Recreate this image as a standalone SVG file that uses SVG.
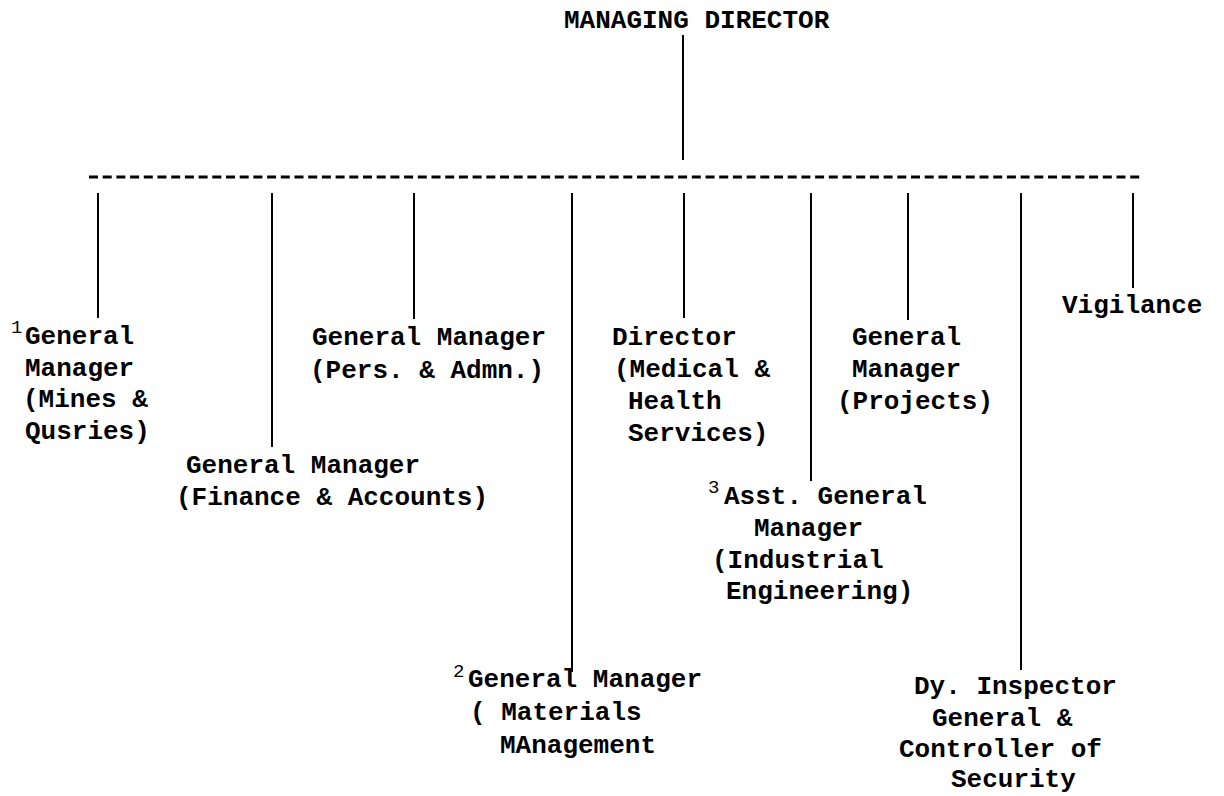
<svg xmlns="http://www.w3.org/2000/svg" width="1224" height="796" viewBox="0 0 1224 796">
<style>
text{font-family:"Liberation Mono","Courier New",monospace;font-weight:bold;font-size:26px;fill:#000}
text.sup{font-size:19px;font-weight:normal}
.c line{stroke:#000;stroke-width:2}
.c line.dash{stroke-width:3;stroke-dasharray:9 4.7}
</style>
<rect width="1224" height="796" fill="#fff"/>
<g class="c" id="connectors">
<line x1="683" y1="35" x2="683" y2="160"/>
<line class="dash" x1="89" y1="177" x2="1141" y2="177"/>
<line x1="98" y1="193" x2="98" y2="318"/>
<line x1="272" y1="193" x2="272" y2="447"/>
<line x1="414" y1="193" x2="414" y2="319"/>
<line x1="572" y1="193" x2="572" y2="672"/>
<line x1="684" y1="193" x2="684" y2="318"/>
<line x1="811" y1="193" x2="811" y2="481"/>
<line x1="908" y1="193" x2="908" y2="320"/>
<line x1="1021" y1="193" x2="1021" y2="670"/>
<line x1="1133" y1="193" x2="1133" y2="288"/>
</g>
<g id="md"><text x="564" y="28">MANAGING DIRECTOR</text></g>
<g id="gm-mines">
<text class="sup" x="11" y="333">1</text>
<text x="25" y="344">General</text>
<text x="25" y="376">Manager</text>
<text x="23" y="407">(Mines &amp;</text>
<text x="25" y="439">Qusries)</text>
</g>
<g id="gm-finance">
<text x="186" y="473">General Manager</text>
<text x="176" y="505">(Finance &amp; Accounts)</text>
</g>
<g id="gm-pers">
<text x="312" y="345">General Manager</text>
<text x="310" y="378">(Pers. &amp; Admn.)</text>
</g>
<g id="gm-materials">
<text class="sup" x="453" y="677">2</text>
<text x="468" y="687">General Manager</text>
<text x="470" y="720">( Materials</text>
<text x="500" y="753">MAnagement</text>
</g>
<g id="dir-medical">
<text x="612" y="345">Director</text>
<text x="614" y="377">(Medical &amp;</text>
<text x="628" y="409">Health</text>
<text x="628" y="441">Services)</text>
</g>
<g id="agm-ie">
<text class="sup" x="708" y="493">3</text>
<text x="724" y="504">Asst. General</text>
<text x="754" y="536">Manager</text>
<text x="712" y="568">(Industrial</text>
<text x="726" y="599">Engineering)</text>
</g>
<g id="gm-projects">
<text x="852" y="345">General</text>
<text x="852" y="377">Manager</text>
<text x="837" y="409">(Projects)</text>
</g>
<g id="dy-ig">
<text x="914" y="694">Dy. Inspector</text>
<text x="932" y="726">General &amp;</text>
<text x="899" y="757">Controller of</text>
<text x="951" y="787">Security</text>
</g>
<g id="vigilance"><text x="1062" y="313">Vigilance</text></g>
</svg>
